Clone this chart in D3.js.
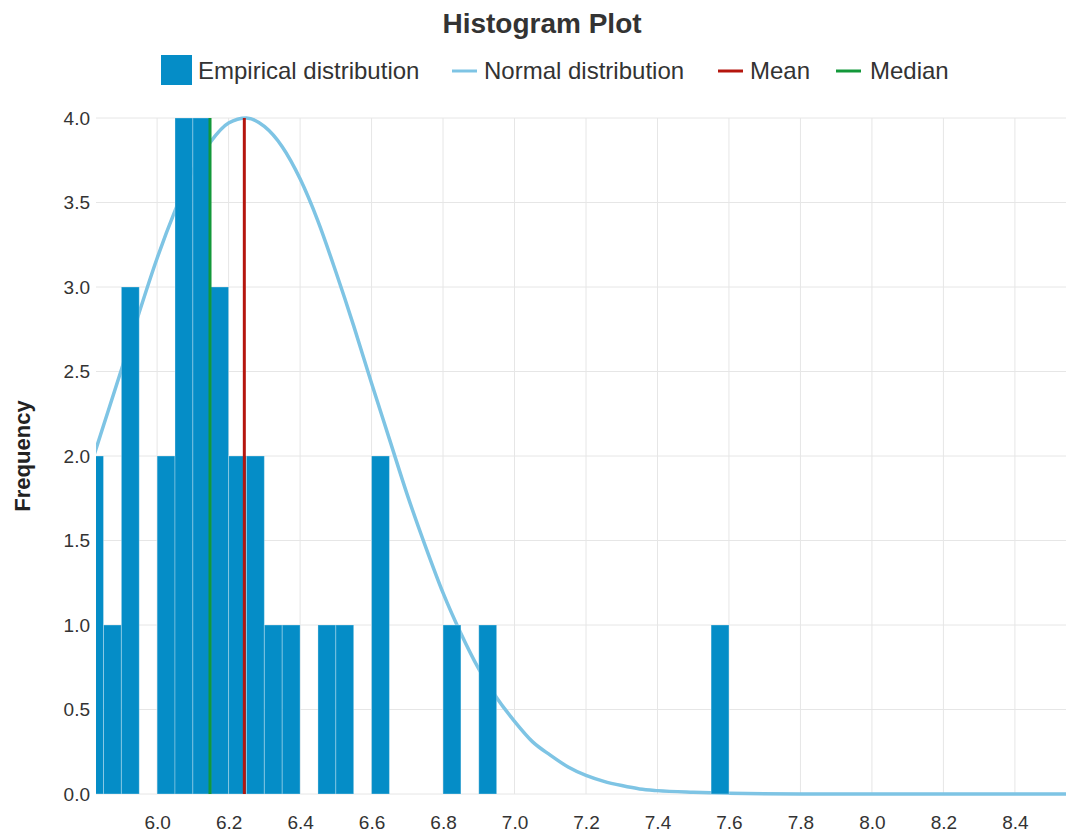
<!DOCTYPE html>
<html>
<head>
<meta charset="utf-8">
<script src="https://cdn.jsdelivr.net/npm/d3@7"></script>
<style>
  body { margin: 0; background: #fff; }
  text { font-family: "Helvetica Neue", Helvetica, Arial, "Liberation Sans", sans-serif; }
</style>
</head>
<body>
<div id="chart"></div>
<script>
// histogram bins (start of each 0.05 bin) and their counts
var binStart = [5.80, 5.85, 5.90, 6.00, 6.05, 6.10, 6.15, 6.20, 6.25, 6.30, 6.35, 6.45, 6.50, 6.60, 6.80, 6.90, 7.55];
var binCount = [2, 1, 3, 2, 4, 4, 3, 2, 2, 1, 1, 1, 1, 2, 1, 1, 1];
var binWidth = 0.05;

// normal curve
var normalX = [5.80, 5.85, 5.90, 5.95, 6.00, 6.05, 6.10, 6.15, 6.20, 6.25, 6.30, 6.35, 6.40, 6.45, 6.50,
               6.55, 6.60, 6.65, 6.70, 6.75, 6.80, 6.85, 6.90, 6.95, 7.00, 7.05, 7.10, 7.15, 7.20, 7.25,
               7.30, 7.35, 7.40, 7.50, 7.60, 7.80, 8.00, 8.20, 8.40, 8.60];
var normalY = [1.85, 2.18, 2.51, 2.85, 3.17, 3.45, 3.69, 3.86, 3.97, 4.00, 3.95, 3.83, 3.64, 3.39, 3.09,
               2.77, 2.43, 2.10, 1.77, 1.47, 1.19, 0.95, 0.74, 0.57, 0.43, 0.31, 0.23, 0.16, 0.11, 0.075,
               0.05, 0.03, 0.02, 0.01, 0.004, 0, 0, 0, 0, 0];

var meanValue = 6.244;
var medianValue = 6.148;

var xTicks = [6.0, 6.2, 6.4, 6.6, 6.8, 7.0, 7.2, 7.4, 7.6, 7.8, 8.0, 8.2, 8.4];
var yTicks = [0, 0.5, 1.0, 1.5, 2.0, 2.5, 3.0, 3.5, 4.0];

var legendItems = ["Empirical distribution", "Normal distribution", "Mean", "Median"];

var width = 1066, height = 833;
var margin = {top: 118, right: 0, bottom: 39, left: 96};

var barColor = "#058dc7",
    curveColor = "#7ec4e4",
    meanColor = "#b5160e",
    medianColor = "#13983a";

var svg = d3.select("#chart").append("svg")
    .attr("width", width)
    .attr("height", height);

var x = d3.scaleLinear().domain([5.829, 8.543]).range([margin.left, width - margin.right]);
var y = d3.scaleLinear().domain([0, 4]).range([height - margin.bottom, margin.top]);

svg.append("clipPath").attr("id", "plotclip")
  .append("rect")
    .attr("x", margin.left).attr("y", margin.top - 5)
    .attr("width", width - margin.left - margin.right)
    .attr("height", height - margin.top - margin.bottom + 10);

// grid
svg.append("g").selectAll("line").data(yTicks).enter().append("line")
    .attr("x1", margin.left).attr("x2", width - margin.right)
    .attr("y1", function(d){ return y(d); }).attr("y2", function(d){ return y(d); })
    .style("stroke", "#e6e6e6").style("stroke-width", 1);

svg.append("g").selectAll("line").data(xTicks).enter().append("line")
    .attr("x1", function(d){ return x(d); }).attr("x2", function(d){ return x(d); })
    .attr("y1", margin.top).attr("y2", y(0))
    .style("stroke", "#e6e6e6").style("stroke-width", 1);

// axes
var yAxis = svg.append("g")
    .attr("transform", "translate(" + (margin.left - 3) + ",0)")
    .call(d3.axisLeft(y).tickValues(yTicks).tickFormat(d3.format(".1f")).tickSize(0));
var xAxis = svg.append("g")
    .attr("transform", "translate(0," + y(0) + ")")
    .call(d3.axisBottom(x).tickValues(xTicks).tickFormat(d3.format(".1f")).tickSize(0));

[yAxis, xAxis].forEach(function(ax){
    ax.select(".domain").remove();
    ax.selectAll("text")
        .style("font-size", "19px")
        .style("fill", "#333");
});
xAxis.selectAll("text").attr("y", 21.5);

var plot = svg.append("g").attr("clip-path", "url(#plotclip)");

// normal curve (behind the bars)
var line = d3.line()
    .x(function(d, i){ return x(normalX[i]); })
    .y(function(d){ return y(d); })
    .curve(d3.curveMonotoneX);

plot.append("path")
    .datum(normalY)
    .attr("d", line)
    .style("fill", "none")
    .style("stroke", curveColor)
    .style("stroke-width", 3.5);

// bars
plot.selectAll(".bar").data(binCount).enter().append("rect")
    .attr("class", "bar")
    .attr("x", function(d, i){ return x(binStart[i]); })
    .attr("width", function(d, i){ return x(binStart[i] + binWidth) - x(binStart[i]); })
    .attr("y", function(d){ return y(d); })
    .attr("height", function(d){ return y(0) - y(d); })
    .style("fill", barColor)
    .style("stroke", "rgba(255,255,255,0.3)")
    .style("stroke-width", 1);

// mean and median
plot.append("line")
    .attr("x1", x(medianValue)).attr("x2", x(medianValue))
    .attr("y1", y(4)).attr("y2", y(0))
    .style("stroke", medianColor).style("stroke-width", 3);

plot.append("line")
    .attr("x1", x(meanValue)).attr("x2", x(meanValue))
    .attr("y1", y(4)).attr("y2", y(0))
    .style("stroke", meanColor).style("stroke-width", 3);

// title
svg.append("text")
    .attr("x", 542).attr("y", 33)
    .attr("text-anchor", "middle")
    .style("font-size", "28px")
    .style("font-weight", "bold")
    .style("fill", "#333")
    .text("Histogram Plot");

// y label
svg.append("text")
    .attr("transform", "translate(30," + ((margin.top + y(0)) / 2) + ") rotate(-90)")
    .attr("text-anchor", "middle")
    .style("font-size", "22px")
    .style("font-weight", "bold")
    .style("fill", "#222")
    .text("Frequency");

/*****Legend******/
var legend = svg.append("g");
var symbolX = [161, 452, 718, 836];
var labelX = [198, 484, 750, 870];
var legendColors = [barColor, curveColor, meanColor, medianColor];

legendItems.forEach(function(name, i){
    if (i == 0) {
        legend.append("rect")
            .attr("x", symbolX[i]).attr("y", 55)
            .attr("width", 31).attr("height", 30)
            .style("fill", legendColors[i]);
    } else {
        legend.append("line")
            .attr("x1", symbolX[i]).attr("x2", symbolX[i] + 25)
            .attr("y1", 71).attr("y2", 71)
            .style("stroke", legendColors[i]).style("stroke-width", 3);
    }
    legend.append("text")
        .attr("x", labelX[i])
        .attr("y", 79)
        .style("font-size", "24px")
        .style("fill", "#333")
        .text(name);
});
</script>
</body>
</html>
